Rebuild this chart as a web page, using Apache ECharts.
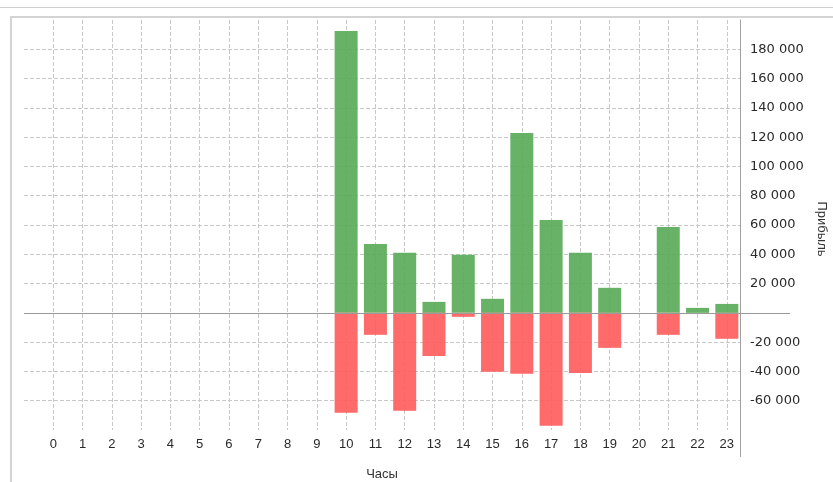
<!DOCTYPE html>
<html>
<head>
<meta charset="utf-8">
<script src="https://cdn.jsdelivr.net/npm/echarts@6/dist/echarts.min.js"></script>
<style>
  html, body { margin: 0; padding: 0; background: #fff; }
  #wrap { position: relative; width: 833px; height: 482px; overflow: hidden; }
  #topline { position: absolute; left: 0; top: 7px; width: 833px; border-top: 1px solid #cfcfcf; }
  #frame { position: absolute; left: 10px; top: 16px; width: 900px; height: 500px;
           border-left: 2px solid #d4d4d4; border-top: 2px solid #d4d4d4; }
  #chart { position: absolute; left: 0; top: 0; width: 833px; height: 482px; }
</style>
</head>
<body>
<div id="wrap">
  <div id="topline"></div>
  <div id="frame"></div>
  <div id="chart"></div>
</div>
<script>
// часы 0..23
const hours = [0, 1, 2, 3, 4, 5, 6, 7, 8, 9, 10, 11, 12, 13, 14, 15, 16, 17, 18, 19, 20, 21, 22, 23]
// прибыль (зелёные) и убыток (красные) по часам
const profit = [null, null, null, null, null, null, null, null, null, null,
  192500, 47100, 41000, 7500, 39600, 9600, 122900, 63500, 41000, 17100, null, 58700, 3400, 6100]
const loss = [null, null, null, null, null, null, null, null, null, null,
  -68300, -15000, -66900, -29400, -2700, -40300, -41600, -77100, -41000, -23900, null, -15000, null, -17700]

const xName = 'Часы'
const yName = 'Прибыль'

const fmtNum = (v) => {
  const s = String(Math.abs(v)).replace(/\B(?=(\d{3})+(?!\d))/g, ' ')
  return (v < 0 ? '-' : '') + s
}

const chart = echarts.init(document.getElementById('chart'), null, { renderer: 'canvas' })

const font = 'Arial, "Liberation Sans", sans-serif'
const yFont = '"DejaVu Sans", sans-serif'
const dashed = { color: '#c8c8c8', type: [4, 2], width: 1 }

const option = {
  backgroundColor: 'transparent',
  animation: false,
  grid: { left: 24, right: 93, top: 20, bottom: 52, outerBoundsMode: 'none', containLabel: false },
  xAxis: {
    type: 'value',
    min: -1,
    max: 23.45,
    interval: 1,
    name: xName,
    nameLocation: 'middle',
    nameGap: 38,
    nameTextStyle: { color: '#333', fontSize: 13, fontFamily: font },
    axisLine: { show: false },
    axisTick: { show: false },
    axisLabel: {
      color: '#2a2a2a', fontSize: 13, fontFamily: font, margin: 8,
      formatter: (v) => (v >= 0 && Number.isInteger(v) ? String(v) : '')
    },
    splitLine: { show: true, showMinLine: false, showMaxLine: false, lineStyle: dashed }
  },
  yAxis: {
    type: 'value',
    position: 'right',
    min: -80000,
    max: 200000,
    interval: 20000,
    name: yName,
    nameLocation: 'middle',
    nameRotate: -90,
    nameGap: 74,
    nameTextStyle: { color: '#333', fontSize: 13, fontFamily: font, padding: [0, 0, 0, 8] },
    axisLine: { show: true, onZero: false, lineStyle: { color: '#a0a0a0', width: 1 } },
    axisTick: { show: false },
    axisLabel: {
      color: '#2a2a2a', fontSize: 13, fontFamily: yFont, margin: 10,
      formatter: (v) => (v === 0 || v >= 200000 || v <= -80000 ? '' : fmtNum(v))
    },
    splitLine: { show: true, showMinLine: false, showMaxLine: false, lineStyle: dashed }
  },
  series: [
    {
      name: 'profit',
      type: 'bar',
      stack: 'pl',
      barWidth: 23,
      data: hours.map((h, i) => [h, profit[i]]),
      itemStyle: { color: 'rgba(88, 170, 88, 0.9)' }
    },
    {
      name: 'loss',
      type: 'bar',
      stack: 'pl',
      barWidth: 23,
      data: hours.map((h, i) => [h, loss[i]]),
      itemStyle: { color: 'rgba(255, 90, 90, 0.9)' }
    }
  ]
}

chart.setOption(option)

// нулевая линия чуть выходит за ось справа, ось Y тянется ниже сетки
const p0 = chart.convertToPixel({ gridIndex: 0 }, [-1, 0])
const pEnd = chart.convertToPixel({ gridIndex: 0 }, [23.45, -80000])
chart.setOption({
  graphic: [
    {
      type: 'line', z: 5,
      shape: { x1: p0[0], y1: Math.round(p0[1]) + 0.5, x2: pEnd[0] + 50, y2: Math.round(p0[1]) + 0.5 },
      style: { stroke: '#9a9a9a', lineWidth: 1 }
    },
    {
      type: 'line', z: 5,
      shape: { x1: Math.round(pEnd[0]) + 0.5, y1: pEnd[1], x2: Math.round(pEnd[0]) + 0.5, y2: pEnd[1] + 27 },
      style: { stroke: '#a0a0a0', lineWidth: 1 }
    }
  ]
})
</script>
</body>
</html>
